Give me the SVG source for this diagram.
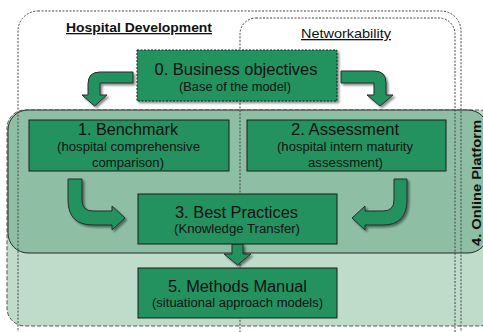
<svg xmlns="http://www.w3.org/2000/svg" width="483" height="332" viewBox="0 0 483 332">
<defs>
<filter id="sh" x="-20%" y="-20%" width="150%" height="150%">
<feDropShadow dx="2" dy="2" stdDeviation="1.2" flood-color="#000" flood-opacity="0.45"/>
</filter>
</defs>
<style>
.node{fill:#23925f;stroke:#1d1d1d;stroke-width:1}
.dash{fill:#23925f;stroke:#1d1d1d;stroke-width:1;stroke-dasharray:2 1.5}
.t{font-family:"Liberation Sans",Arial,sans-serif;font-size:16px;fill:#111;text-anchor:middle}
.s{font-family:"Liberation Sans",Arial,sans-serif;font-size:12.5px;fill:#111;text-anchor:middle}
.h{font-family:"Liberation Sans",Arial,sans-serif;font-size:13px;fill:#111;text-anchor:middle;text-decoration:underline}
.arr{fill:#23925f;stroke:#2a2a2a;stroke-width:1;filter:url(#sh)}
.frame{fill:none;stroke:#444;stroke-width:1;stroke-dasharray:2 1.5}
</style>
<rect width="483" height="332" fill="#fff"/>
<g id="online-platform">
<rect x="7" y="110" width="490" height="216" rx="18" fill="#bfdccb" stroke="#555" stroke-width="1" stroke-dasharray="4 2"/>
<rect x="8" y="110" width="480" height="143" rx="20" fill="#8ebfa5" stroke="#2a2a2a" stroke-width="1"/>
<text x="481" y="183" transform="rotate(-90 481 183)" font-family="'Liberation Sans',Arial,sans-serif" font-size="13" font-weight="bold" fill="#111" text-anchor="middle" textLength="126" lengthAdjust="spacingAndGlyphs">4. Online Platform</text>
</g>
<g id="hospital-development">
<rect x="18" y="11" width="443" height="340" rx="20" class="frame"/>
<text class="h" x="139" y="32" font-weight="bold" textLength="146" lengthAdjust="spacingAndGlyphs">Hospital Development</text>
</g>
<g id="networkability">
<rect x="240" y="18" width="215" height="330" rx="16" class="frame"/>
<text class="h" x="346" y="38" textLength="90" lengthAdjust="spacingAndGlyphs">Networkability</text>
</g>
<g id="connectors">
<path class="arr" d="M133,72 L100,72 Q88,72 88,84 L88,95 L82,95 L94.5,106 L107,95 L100,95 L100,83 L133,83 Z"/>
<path class="arr" d="M341,71 L374,71 Q386,71 386,83 L386,95 L393,95 L380,106 L367,95 L374,95 L374,83 L341,83 Z"/>
<path class="arr" d="M68,179 L82,179 L82,200 Q82,211 93,211 L112,211 L112,206 L125,218 L112,230 L112,225 L93,225 Q68,225 68,200 Z"/>
<path class="arr" d="M407,179 L394,179 L394,200 Q394,211 383,211 L365,211 L365,206 L352,218 L365,230 L365,225 L383,225 Q407,225 407,200 Z"/>
<path class="arr" d="M232,244 L243,244 L243,254 L251,254 L237.5,265 L224,254 L232,254 Z"/>
</g>
<g id="n0">
<rect class="dash" x="137" y="50" width="200" height="51" filter="url(#sh)"/>
<text class="t" x="236" y="75" textLength="163" lengthAdjust="spacingAndGlyphs">0. Business objectives</text>
<text class="s" x="235" y="91" textLength="112" lengthAdjust="spacingAndGlyphs">(Base of the model)</text>
</g>
<g id="n1">
<rect class="node" x="29" y="120" width="200" height="51"/>
<text class="t" x="128" y="135" textLength="100" lengthAdjust="spacingAndGlyphs">1. Benchmark</text>
<text class="s" x="128.5" y="151" textLength="143" lengthAdjust="spacingAndGlyphs">(hospital comprehensive</text>
<text class="s" x="128" y="167" textLength="72" lengthAdjust="spacingAndGlyphs">comparison)</text>
</g>
<g id="n2">
<rect class="node" x="247" y="120" width="199" height="51"/>
<text class="t" x="345" y="135" textLength="108" lengthAdjust="spacingAndGlyphs">2. Assessment</text>
<text class="s" x="345" y="151" textLength="136" lengthAdjust="spacingAndGlyphs">(hospital intern maturity</text>
<text class="s" x="345.5" y="167" textLength="75" lengthAdjust="spacingAndGlyphs">assessment)</text>
</g>
<g id="n3">
<rect class="node" x="138" y="194" width="199" height="50"/>
<text class="t" x="236.5" y="218" textLength="123" lengthAdjust="spacingAndGlyphs">3. Best Practices</text>
<text class="s" x="237" y="233" textLength="126" lengthAdjust="spacingAndGlyphs">(Knowledge Transfer)</text>
</g>
<g id="n5">
<rect class="node" x="138" y="268" width="199" height="50"/>
<text class="t" x="237.5" y="292" textLength="139" lengthAdjust="spacingAndGlyphs">5. Methods Manual</text>
<text class="s" x="237.5" y="307" textLength="171" lengthAdjust="spacingAndGlyphs">(situational approach models)</text>
</g>
</svg>
